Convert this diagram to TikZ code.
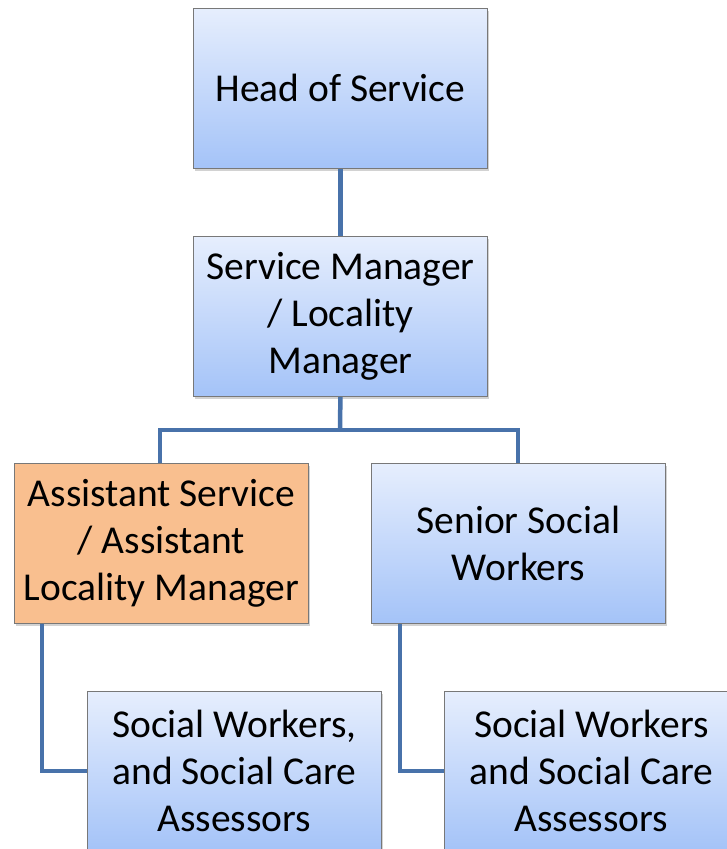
\documentclass[tikz,border=0pt]{standalone}
\usepackage{fontspec}
\setmainfont{Carlito}
\usetikzlibrary{shadows}
\definecolor{linkblue}{RGB}{72,114,170}
\definecolor{boxtop}{RGB}{230,238,253}
\definecolor{boxbot}{RGB}{164,195,248}
\definecolor{orangefill}{RGB}{249,191,143}
\definecolor{boxedge}{RGB}{120,120,120}
\tikzset{
  orgbox/.style={draw=boxedge, line width=0.8pt, anchor=north west,
    minimum width=294pt, minimum height=160pt, inner sep=2pt,
    align=center,
    font=\fontsize{39.5}{47}\selectfont,
    drop shadow={opacity=0.35, shadow xshift=2pt, shadow yshift=-3pt}},
  bluebox/.style={orgbox, top color=boxtop, bottom color=boxbot},
  orangebox/.style={orgbox, fill=orangefill},
  link/.style={draw=linkblue, line width=4.5pt, line join=miter}
}
\begin{document}
\begin{tikzpicture}[x=1pt, y=-1pt]
\useasboundingbox (0,0) rectangle (727,849);
\clip (0,0) rectangle (727,849);
\fill[white] (0,0) rectangle (727,849);
\coordinate (j) at (340,430);
\coordinate (jl) at (160,430);
\coordinate (jr) at (518,430);
\coordinate (cl) at (42,771);
\coordinate (cr) at (400,771);
\node[bluebox] (head) at (193,8) {Head of Service};
\node[bluebox] (sm) at (193,236) {Service Manager\\/ Locality\\Manager};
\node[orangebox] (asm) at (14,463) {Assistant Service\\/ Assistant\\Locality Manager};
\node[bluebox] (ssw) at (371,463) {Senior Social\\Workers};
\node[bluebox] (swl) at (87,691) {Social Workers,\\and Social Care\\Assessors};
\node[bluebox] (swr) at (444,691) {Social Workers\\and Social Care\\Assessors};
\draw[link] (head.south) -- (sm.north);
\draw[link] (sm.south) -- (j);
\draw[link] (jl |- asm.north) -- (jl) -- (jr) -- (jr |- ssw.north);
\draw[link] (asm.south -| cl) -- (cl) -- (swl.west |- cl);
\draw[link] (ssw.south -| cr) -- (cr) -- (swr.west |- cr);
\end{tikzpicture}
\end{document}
